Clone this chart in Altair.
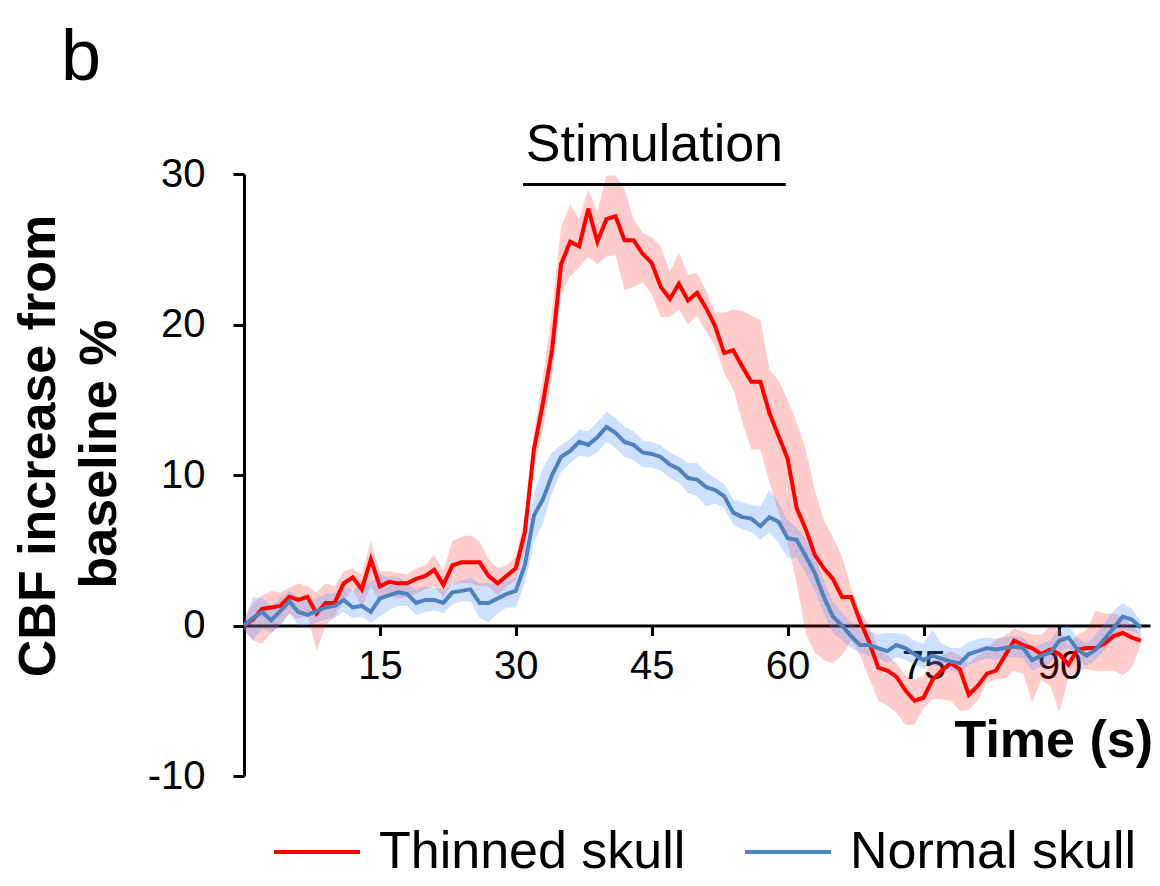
import altair as alt
import pandas as pd

# ---------------- data ----------------
time_s = list(range(100))

thinned_mean = [0, 0.4, 1.1, 1.2, 1.3, 1.9, 1.7, 1.9, 0.8, 1.5,
                1.5, 2.8, 3.2, 2.4, 4.4, 2.6, 2.9, 2.8, 2.8, 3.1,
                3.3, 3.7, 2.7, 4.0, 4.2, 4.2, 4.2, 3.3, 2.8, 3.3,
                3.8, 6.2, 11.7, 14.8, 18.3, 24.0, 25.5, 25.2, 27.7, 25.5,
                27.0, 27.2, 25.6, 25.6, 24.7, 24.1, 22.5, 21.7, 22.7, 21.6,
                22.1, 21.1, 19.9, 18.1, 18.3, 17.2, 16.2, 16.2, 14.1, 12.6,
                11.1, 7.8, 6.4, 4.7, 3.8, 3.1, 1.9, 1.9, 0.3, -1.1,
                -2.8, -3.0, -3.4, -4.3, -5.0, -4.8, -3.6, -3.0, -2.5, -2.9,
                -4.6, -4.0, -3.2, -3.0, -2.0, -1.0, -1.3, -1.5, -1.9, -1.6,
                -1.9, -2.6, -1.6, -1.5, -1.5, -1.2, -0.7, -0.5, -0.8, -1.0]

thinned_upper = [0.3, 1.5, 2.0, 2.3, 2.2, 2.5, 2.8, 2.6, 2.2, 2.8,
                 2.6, 3.6, 3.8, 3.4, 5.6, 3.6, 3.6, 3.5, 3.4, 3.8,
                 4.0, 4.7, 3.6, 5.6, 5.9, 6.0, 5.6, 4.4, 3.8, 4.0,
                 4.6, 7.2, 12.8, 16.5, 21.0, 26.5, 28.0, 27.0, 29.0, 27.5,
                 29.9, 29.9, 29.0, 27.0, 26.1, 25.8, 25.2, 23.5, 24.8, 23.3,
                 23.4, 22.3, 20.8, 20.8, 21.0, 20.9, 20.6, 20.3, 17.0, 16.3,
                 15.0, 13.5, 11.7, 9.0, 7.0, 5.9, 4.6, 2.5, 1.0, 0.0,
                 -1.5, -2.0, -2.5, -3.3, -3.6, -3.3, -2.3, -2.0, -1.7, -2.0,
                 -2.5, -2.0, -1.6, -0.9, -0.7, -0.2, -0.4, -0.6, -0.6, 0.0,
                 -0.2, -1.3, -0.6, -0.3, 1.0, 0.8, 0.8, 0.6, 0.0, -0.6]

thinned_lower = [-0.3, -1.0, -1.2, -0.5, 0.0, 0.8, 0.4, 0.8, -1.7, 0.0,
                 0.6, 1.6, 2.4, 1.2, 2.6, 1.6, 2.0, 1.8, 1.9, 2.1,
                 2.4, 2.6, 1.9, 2.8, 2.8, 2.8, 2.6, 2.6, 2.0, 2.6,
                 3.0, 5.0, 10.5, 13.0, 16.5, 22.0, 23.2, 23.8, 24.5, 24.0,
                 24.5, 24.6, 22.3, 22.5, 22.8, 22.0, 20.5, 20.5, 21.0, 20.0,
                 20.6, 19.5, 18.6, 16.8, 15.7, 13.5, 11.7, 11.7, 9.5, 7.5,
                 5.5, 2.8, -0.5, -1.8, -2.3, -2.5, -2.0, -1.0, -2.0, -3.5,
                 -5.0, -5.3, -5.8, -6.6, -6.6, -5.5, -4.9, -4.9, -5.0, -5.7,
                 -5.6, -5.0, -3.8, -3.6, -3.5, -3.0, -3.2, -5.1, -3.6, -4.0,
                 -5.8, -3.4, -3.0, -2.9, -3.0, -3.0, -3.0, -3.3, -2.8, -1.2]

normal_mean = [0, 0.5, 0.9, 0.35, 0.95, 1.6, 0.9, 0.7, 0.95, 1.2,
               1.3, 1.7, 1.2, 1.3, 0.9, 1.8, 2.0, 2.2, 2.1, 1.5,
               1.7, 1.7, 1.5, 2.2, 2.3, 2.4, 1.5, 1.5, 1.8, 2.1,
               2.3, 4.0, 7.3, 8.4, 10.0, 11.2, 11.6, 12.2, 12.0, 12.5,
               13.2, 12.8, 12.2, 12.0, 11.5, 11.4, 11.2, 10.7, 10.4, 9.8,
               9.7, 9.2, 9.0, 8.6, 7.5, 7.2, 7.1, 6.6, 7.2, 6.9,
               5.8, 5.7, 4.6, 3.5, 1.9, 0.6, 0.0, -0.7, -1.3, -1.3,
               -1.5, -1.7, -1.3, -1.5, -1.9, -2.3, -2.0, -2.2, -2.4, -2.5,
               -1.9, -1.7, -1.5, -1.6, -1.5, -1.4, -1.5, -2.3, -2.0, -1.8,
               -1.0, -0.8, -1.6, -2.0, -1.6, -0.9, -0.15, 0.6, 0.4, -0.15]

normal_upper = [0.3, 1.9, 1.8, 1.3, 1.8, 2.3, 1.9, 1.6, 1.8, 2.1,
                2.2, 2.6, 2.3, 3.0, 2.8, 3.4, 3.2, 3.2, 2.8, 2.4,
                2.6, 2.5, 2.4, 2.8, 3.0, 3.2, 2.8, 2.8, 2.8, 2.9,
                3.2, 5.5, 8.8, 10.5, 11.5, 12.0, 12.4, 13.0, 12.9, 13.5,
                14.2, 13.8, 13.2, 12.9, 12.3, 12.2, 12.0, 11.5, 11.2, 10.8,
                10.8, 10.2, 9.8, 9.4, 8.4, 8.2, 8.0, 7.9, 9.0, 8.2,
                7.0, 6.5, 5.8, 4.5, 3.0, 1.6, 0.9, 0.2, -0.3, -0.4,
                -0.6, -0.5, -0.5, -0.6, -1.0, -1.2, -0.3, -1.2, -1.5, -1.5,
                -1.1, -0.9, -0.8, -0.9, -0.8, -0.7, -0.8, -1.5, -1.2, -1.0,
                -0.15, 0.0, -0.8, -1.2, -0.6, 0.2, 1.0, 1.5, 1.1, 0.3]

normal_lower = [-0.3, -1.0, -0.2, -0.5, 0.0, 0.8, 0.0, 0.0, 0.2, 0.4,
                0.5, 0.9, 0.5, 0.6, 0.2, 0.6, 1.0, 1.3, 1.3, 0.7,
                0.9, 1.0, 0.8, 1.4, 1.6, 1.6, 0.5, 0.2, 0.8, 1.2,
                1.2, 2.8, 5.5, 6.8, 8.8, 10.2, 10.8, 11.3, 11.2, 11.5,
                12.2, 11.8, 11.2, 11.0, 10.5, 10.5, 10.3, 9.8, 9.5, 8.8,
                8.6, 7.9, 8.1, 7.8, 6.7, 6.4, 6.2, 5.7, 6.2, 5.5,
                4.5, 4.5, 3.5, 2.3, 0.8, -0.5, -1.0, -1.5, -1.8, -2.0,
                -2.2, -2.5, -2.1, -2.3, -2.6, -2.9, -2.6, -2.8, -3.0, -3.1,
                -2.6, -2.4, -2.2, -2.3, -2.2, -2.1, -2.2, -3.0, -2.7, -2.5,
                -1.8, -1.5, -2.3, -2.7, -2.3, -1.6, -0.9, -0.3, -0.4, -0.6]

series_names = ["Thinned skull", "Normal skull"]
line_colors = ["#FF0000", "#4F81BD"]

x_ticks = [15, 30, 45, 60, 75, 90]
y_ticks = [-10, 0, 10, 20, 30]

stim_start = 30.8
stim_end = 59.8
stim_level = 29.3
stim_label = "Stimulation"

# ---------------- tables ----------------
thin_df = pd.DataFrame({"t": time_s, "m": thinned_mean, "lo": thinned_lower,
                        "hi": thinned_upper, "series": series_names[0]})
norm_df = pd.DataFrame({"t": time_s, "m": normal_mean, "lo": normal_lower,
                        "hi": normal_upper, "series": series_names[1]})
stim_df = pd.DataFrame({"t": [stim_start], "t2": [stim_end], "m": [stim_level],
                        "mid": [(stim_start + stim_end) / 2], "label": [stim_label]})

FONT = "Liberation Sans"
W, H = 906, 602

x_scale = alt.Scale(domain=[0, 100], nice=False, zero=False)
y_scale = alt.Scale(domain=[-10, 30], nice=False, zero=False)

x_axis = alt.Axis(values=x_ticks, title=None, grid=False, offset=-H * 10 / 40,
                  domainColor="black", domainWidth=3, tickColor="black",
                  tickWidth=3, tickSize=10, labelFontSize=40, labelFont=FONT,
                  labelColor="black", labelPadding=11, labelFlush=False,
                  labelOverlap=False, labelExpr="'' + datum.value")
y_axis = alt.Axis(values=y_ticks, title=None, grid=False,
                  domainColor="black", domainWidth=3, tickColor="black",
                  tickWidth=3, tickSize=11, labelFontSize=40, labelFont=FONT,
                  labelColor="black", labelPadding=28, labelFlush=False,
                  labelOverlap=False, labelExpr="'' + datum.value")

stroke_enc = alt.Stroke(
    "series:N",
    scale=alt.Scale(domain=series_names, range=line_colors),
    legend=alt.Legend(orient="none", legendX=28, legendY=633, direction="horizontal",
                      title=None, symbolType="stroke", symbolSize=7396,
                      symbolStrokeWidth=4, labelFontSize=52, labelFont=FONT,
                      labelColor="black", labelOffset=17, columnPadding=51,
                      padding=0, labelLimit=0),
)

def band(df, color, opacity):
    return alt.Chart(df).mark_area(color=color, opacity=opacity).encode(
        x=alt.X("t:Q", scale=x_scale, axis=x_axis),
        y=alt.Y("lo:Q", scale=y_scale, axis=y_axis),
        y2="hi:Q",
    )

def line(df, width):
    return alt.Chart(df).mark_line(strokeWidth=width).encode(
        x=alt.X("t:Q", scale=x_scale, axis=x_axis),
        y=alt.Y("m:Q", scale=y_scale, axis=y_axis),
        stroke=stroke_enc,
    )

band_thin = band(thin_df, "#FF0000", 0.2)
band_norm = band(norm_df, "#4A92FF", 0.28)
line_thin = line(thin_df, 4)
line_norm = line(norm_df, 4)

stim_rule = alt.Chart(stim_df).mark_rule(color="black", strokeWidth=3).encode(
    x=alt.X("t:Q", scale=x_scale, axis=x_axis),
    x2="t2:Q",
    y=alt.Y("m:Q", scale=y_scale, axis=y_axis),
)
stim_text = alt.Chart(stim_df).mark_text(
    font=FONT, fontSize=52, color="black", baseline="alphabetic", align="center", dy=-24
).encode(
    x=alt.X("mid:Q", scale=x_scale, axis=x_axis),
    y=alt.Y("m:Q", scale=y_scale, axis=y_axis),
    text="label:N",
)

def annot(txt, x, y, size, weight="normal", angle=0, align="center", baseline="alphabetic"):
    return alt.Chart(pd.DataFrame({"label": [txt]})).mark_text(
        font=FONT, fontSize=size, fontWeight=weight, color="black",
        angle=angle, align=align, baseline=baseline,
    ).encode(x=alt.value(x), y=alt.value(y), text="label:N")

panel = annot("b", -163, -94, 72)
xtitle = annot("Time (s)", 909, 583, 52, weight="bold", align="right")
ytitle1 = annot("CBF increase from", -205, 272, 52, weight="bold", angle=270, baseline="middle")
ytitle2 = annot("baseline %", -144, 280, 52, weight="bold", angle=270, baseline="middle")

chart = alt.layer(
    band_thin, band_norm, line_thin, line_norm, stim_rule, stim_text,
    panel, xtitle, ytitle1, ytitle2,
).properties(
    width=W, height=H,
    padding={"left": 236, "top": 166, "right": 2, "bottom": 104},
    autosize=alt.AutoSizeParams(type="none"),
    background="white",
).configure_view(stroke=None)

chart.save("out.html", embed_options={"renderer": "svg", "actions": False})
